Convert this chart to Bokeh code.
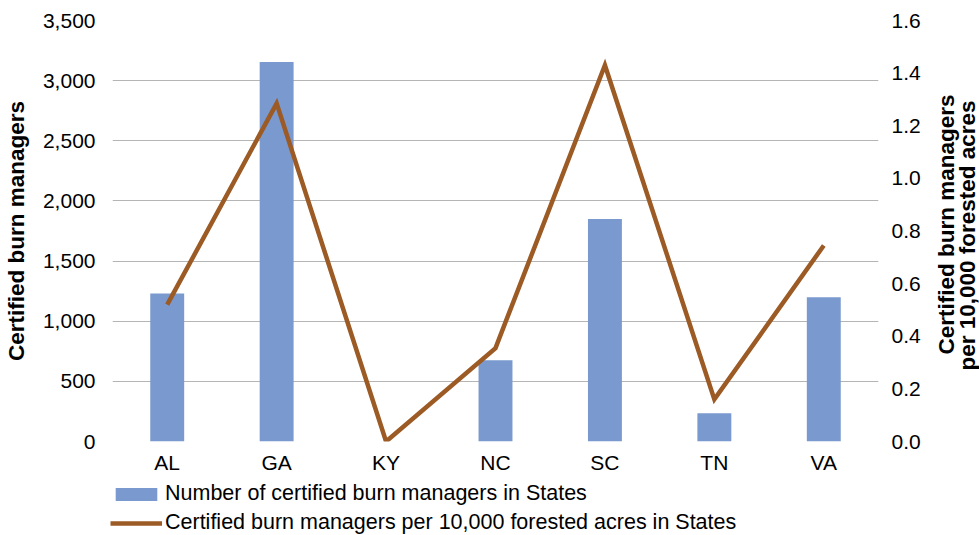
import math
from bokeh.plotting import figure
from bokeh.layouts import column, row
from bokeh.models import (ColumnDataSource, Range1d, LinearAxis, Legend, LegendItem,
                          NumeralTickFormatter, FixedTicker)
from bokeh.core.properties import value
from bokeh.embed import file_html
from bokeh.resources import INLINE

# Certified burn managers by State
states = ["AL", "GA", "KY", "NC", "SC", "TN", "VA"]
managers = [1230, 3155, 0, 675, 1850, 235, 1200]
per_10k_acres = [0.52, 1.285, 0.0, 0.355, 1.43, 0.16, 0.745]

left_ticks = [0, 500, 1000, 1500, 2000, 2500, 3000, 3500]
right_ticks = [0.0, 0.2, 0.4, 0.6, 0.8, 1.0, 1.2, 1.4, 1.6]

bar_label = "Number of certified burn managers in States"
line_label = "Certified burn managers per 10,000 forested acres in States"
right_title = ["Certified burn managers", "per 10,000 forested acres"]

FONT = "Liberation Sans"
FS = "21px"
TITLE_FS = "22.5px"
BAR = "#7a99cf"
LINE = "#9c5a24"
GRID = "#b5b5b5"
TXT = "#000000"

src = ColumnDataSource(dict(state=states, managers=managers, rate=per_10k_acres))

p = figure(x_range=states, y_range=Range1d(0, 3500), width=935, height=481,
           output_backend="svg", toolbar_location=None,
           min_border_left=110, min_border_right=57, min_border_top=20,
           min_border_bottom=40)
p.outline_line_color = None
p.background_fill_color = "white"
p.border_fill_color = "white"

p.extra_y_ranges = {"rate": Range1d(0, 1.6)}

p.vbar(x="state", top="managers", width=0.31, source=src,
       fill_color=BAR, line_color=None)
p.line(x="state", y="rate", source=src, y_range_name="rate",
       line_color=LINE, line_width=4.5, line_join="miter")

# Left axis
ya = p.yaxis[0]
ya.ticker = FixedTicker(ticks=left_ticks)
ya.formatter = NumeralTickFormatter(format="0,0")
ya.axis_label = "Certified burn managers"
ya.axis_label_text_font = FONT
ya.axis_label_text_font_style = "bold"
ya.axis_label_text_font_size = TITLE_FS
ya.axis_label_text_color = TXT
ya.axis_label_standoff = 11
ya.major_label_text_font = FONT
ya.major_label_text_font_size = FS
ya.major_label_text_color = TXT
ya.major_label_standoff = 11
ya.axis_line_color = None
ya.major_tick_line_color = None
ya.minor_tick_line_color = None

# Right axis for the per-acre rate (its title is drawn in the strip beside it)
ra = LinearAxis(y_range_name="rate", ticker=FixedTicker(ticks=right_ticks),
                formatter=NumeralTickFormatter(format="0.0"))
ra.major_label_text_font = FONT
ra.major_label_text_font_size = FS
ra.major_label_text_color = TXT
ra.major_label_standoff = 7
ra.axis_line_color = None
ra.major_tick_line_color = None
ra.minor_tick_line_color = None
p.add_layout(ra, "right")

# Category axis
xa = p.xaxis[0]
xa.major_label_text_font = FONT
xa.major_label_text_font_size = FS
xa.major_label_text_color = TXT
xa.major_label_standoff = 3
xa.axis_line_color = None
xa.major_tick_line_color = None
xa.minor_tick_line_color = None

p.xgrid.grid_line_color = None
p.ygrid.grid_line_color = GRID
p.ygrid.grid_line_width = 1.2
p.ygrid.ticker = FixedTicker(ticks=left_ticks)

# Narrow strip holding the two-line right-hand axis title, reading bottom to top
r = figure(width=44, height=481, x_range=Range1d(935, 979), y_range=Range1d(0, 421),
           output_backend="svg", toolbar_location=None,
           min_border_left=0, min_border_right=0, min_border_top=20, min_border_bottom=40)
r.axis.visible = False
r.grid.visible = False
r.outline_line_color = None
r.text(x=[946, 967], y=[217, 206], text=right_title, angle=math.pi / 2,
       text_align="center", text_baseline="middle", text_color=TXT,
       text_font=value(FONT), text_font_style="bold", text_font_size=TITLE_FS)

# Legend strip under the chart; its key glyphs lie far outside the strip's view
q = figure(width=979, height=54, x_range=states, y_range=Range1d(5000, 6000),
           output_backend="svg", toolbar_location=None,
           min_border_left=110, min_border_right=0, min_border_top=0, min_border_bottom=0)
q.axis.visible = False
q.grid.visible = False
q.outline_line_color = None
key_bar = q.vbar(x="state", top="managers", width=0.31, source=src,
                 fill_color=BAR, line_color=None)
key_line = q.line(x="state", y="rate", source=src, line_color=LINE, line_width=4.5)

legend = Legend(items=[
    LegendItem(label=bar_label, renderers=[key_bar]),
    LegendItem(label=line_label, renderers=[key_line]),
], location=(0, 0), orientation="vertical")
legend.border_line_color = None
legend.background_fill_alpha = 0
legend.padding = 0
legend.margin = 0
legend.spacing = 4
legend.glyph_width = 52
legend.glyph_height = 16
legend.label_height = 22
legend.label_standoff = 3
legend.label_text_font = FONT
legend.label_text_font_size = "21.5px"
legend.label_text_color = TXT
q.add_layout(legend)

layout = column(row(p, r, spacing=0), q, spacing=0)
open("out.html", "w").write(file_html(layout, INLINE))
